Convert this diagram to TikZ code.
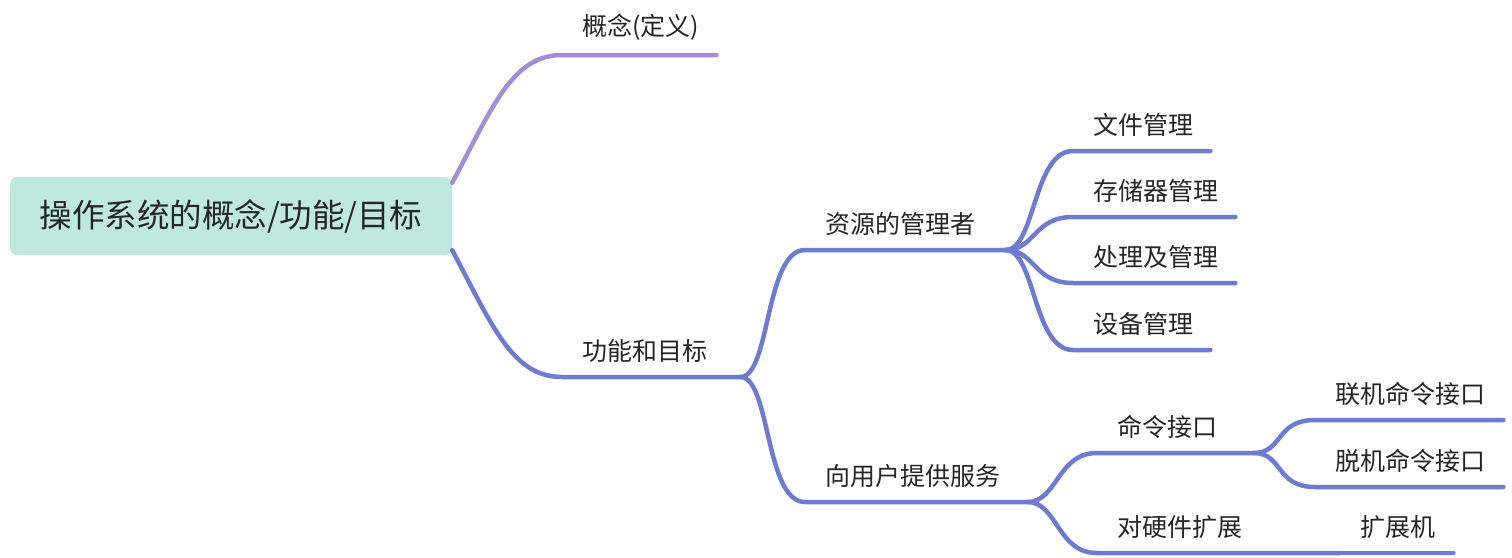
\documentclass[tikz,border=0pt]{standalone}
\usepackage{fontspec}
\newfontfamily\cjkfont{Noto Sans CJK SC}
\usetikzlibrary{positioning}

\definecolor{rootfill}{HTML}{BFE9E0}
\definecolor{purpleline}{HTML}{A28ED8}
\definecolor{blueline}{HTML}{6D7CD2}
\definecolor{labeltext}{HTML}{262626}

\begin{document}
\begin{tikzpicture}[
    x=1pt, y=-1pt,
    rootbox/.style={fill=rootfill, rounded corners=7pt, minimum width=442pt, minimum height=78pt, text=labeltext, font=\cjkfont\fontsize{32.5}{38}\selectfont},
    topic/.style={anchor=south west, inner xsep=0pt, inner ysep=14pt, text width=#1, align=left, text=labeltext, font=\cjkfont\fontsize{25}{30}\selectfont, execute at begin node={\hspace*{20pt}}},
    purplebranch/.style={draw=purpleline, line width=4.5pt, line cap=round},
    bluebranch/.style={draw=blueline, line width=4.5pt, line cap=round}
]
    \useasboundingbox (0,0) rectangle (1512,557);

    % Thema
    \node[rootbox] (root) at (231,216) {操作系统的概念/功能/目标};

    % Ebene 1
    \node[topic=154pt] (concept) at (562,55) {概念(定义)};
    \node[topic=178pt] (func) at (562,377) {功能和目标};

    % Ebene 2
    \node[topic=200pt] (resmgr) at (805,250) {资源的管理者};
    \node[topic=222pt] (service) at (805,502) {向用户提供服务};

    % Ebene 3
    \node[topic=137pt] (file) at (1073,151) {文件管理};
    \node[topic=162pt] (storage) at (1073,217) {存储器管理};
    \node[topic=162pt] (proc) at (1073,283) {处理及管理};
    \node[topic=137pt] (device) at (1073,350) {设备管理};
    \node[topic=156pt] (cmd) at (1097,453) {命令接口};
    \node[topic=243pt] (hw) at (1097,553) {对硬件扩展};

    % Ebene 4
    \node[topic=188pt] (online) at (1315,420) {联机命令接口};
    \node[topic=188pt] (offline) at (1315,487) {脱机命令接口};
    \node[topic=113pt] (extender) at (1340,553) {扩展机};

    % Zweige
    \draw[purplebranch] ([yshift=-6pt]root.north east) .. controls +(40,-75) and +(-50,0) .. (concept.south west) -- (concept.south east);
    \draw[bluebranch] ([yshift=5pt]root.south east) .. controls +(40,75) and +(-50,0) .. (func.south west) -- (func.south east);

    \foreach \kid in {resmgr,service}
        \draw[bluebranch] (func.south east) .. controls +(30,0) and +(-40,0) .. (\kid.south west) -- (\kid.south east);
    \foreach \kid in {file,storage,proc,device}
        \draw[bluebranch] (resmgr.south east) .. controls +(30,0) and +(-40,0) .. (\kid.south west) -- (\kid.south east);
    \foreach \kid in {cmd,hw}
        \draw[bluebranch] (service.south east) .. controls +(30,0) and +(-40,0) .. (\kid.south west) -- (\kid.south east);
    \foreach \kid in {online,offline}
        \draw[bluebranch] (cmd.south east) .. controls +(30,0) and +(-40,0) .. (\kid.south west) -- (\kid.south east);
    \draw[bluebranch] (hw.south east) -- (extender.south west) -- (extender.south east);

\end{tikzpicture}
\end{document}
